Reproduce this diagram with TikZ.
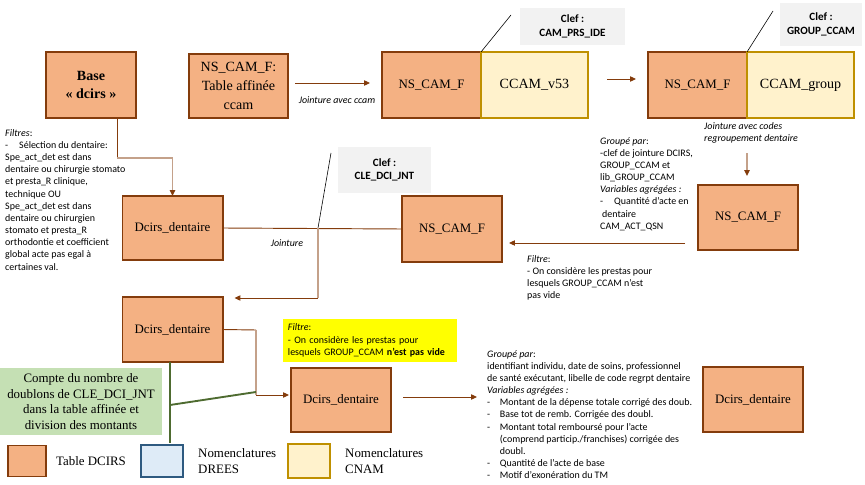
\documentclass[tikz,border=0pt]{standalone}
\usepackage{fontspec}
\setmainfont{Liberation Serif}
\newfontfamily\calib{Carlito}
\usetikzlibrary{arrows.meta,positioning,calc}

\definecolor{saumon}{HTML}{F4B183}
\definecolor{brun}{HTML}{843C0C}
\definecolor{brunclair}{HTML}{C4A18A}
\definecolor{creme}{HTML}{FFF2CC}
\definecolor{ocre}{HTML}{BF9000}
\definecolor{gris}{HTML}{F2F2F2}
\definecolor{vertclair}{HTML}{C5E0B4}
\definecolor{vertfonce}{HTML}{4E6B30}
\definecolor{bleuclair}{HTML}{DEEBF7}
\definecolor{bleufonce}{HTML}{2E5A80}
\definecolor{jaune}{HTML}{FFFF00}

\newcommand{\puce}{\makebox[0.38cm][l]{-}}
\newcommand{\retrait}{\hspace*{0.38cm}}

\tikzset{
  tabdcirs/.style={draw=brun, fill=saumon, line width=1.7pt, outer sep=0pt,
    minimum width=3cm, minimum height=1.95cm, inner sep=1pt, align=center,
    font=\fontsize{11}{13}\selectfont},
  nomcnam/.style={draw=ocre, fill=creme, line width=1.7pt, outer sep=0pt,
    minimum width=3.21cm, minimum height=1.98cm, inner sep=1pt,
    font=\fontsize{12}{14}\selectfont},
  clef/.style={fill=gris, align=center, inner sep=0pt,
    font=\calib\bfseries\fontsize{9.5}{11.5}\selectfont},
  note/.style={font=\calib\fontsize{8.5}{10.4}\selectfont, align=left,
    inner sep=0pt, anchor=north west},
  legende/.style={font=\fontsize{11}{13.4}\selectfont, align=left,
    inner sep=0pt, anchor=west},
  lien/.style={draw=brun, line width=0.8pt},
  lienclair/.style={draw=brunclair, line width=1.6pt},
  vert/.style={draw=vertfonce, line width=1.6pt},
  appel/.style={draw=black, line width=0.5pt},
}

\begin{document}
\begin{tikzpicture}[x=0.03cm,y=-0.03cm,
    >={Triangle[length=5pt,width=4.5pt,color=brun]}]
  \useasboundingbox (0,0) rectangle (865,485);

% top row: tables and nomenclatures
  \node[tabdcirs,minimum width=2.7cm,minimum height=1.98cm,
    font=\bfseries\fontsize{12}{16}\selectfont] (base) at (91,85) {Base\\« dcirs »};
  \node[tabdcirs,minimum width=2.97cm,minimum height=1.92cm,
    font=\fontsize{12}{16}\selectfont] (nscamtab) at (238.5,86) {NS\_CAM\_F:\\Table affinée\\ccam};
  \node[tabdcirs,minimum width=2.97cm,minimum height=1.98cm] (nscam1) at (431.5,85) {NS\_CAM\_F};
  \node[nomcnam,right=0pt of nscam1] (ccam53) {CCAM\_v53};
  \node[tabdcirs,minimum width=2.97cm,minimum height=1.98cm] (nscam2) at (697.5,85) {NS\_CAM\_F};
  \node[nomcnam,right=0pt of nscam2] (ccamgrp) {CCAM\_group};

% keys
  \node[clef,minimum width=3.15cm,minimum height=1.11cm] (clef1) at (572.5,26.5) {Clef :\\CAM\_PRS\_IDE};
  \node[clef,minimum width=2.46cm,minimum height=1.29cm] (clef2) at (821,24.5) {Clef :\\GROUP\_CCAM};
  \node[clef,minimum width=2.79cm,minimum height=1.38cm] (clef3) at (384.5,170) {Clef :\\CLE\_DCI\_JNT};
  \coordinate (a1) at (511,15);
  \coordinate (a2) at (773,11);
  \draw[appel] (nscam1.north east) -- (a1);
  \draw[appel] (nscam2.north east) -- (a2);

% middle and bottom tables
  \node[tabdcirs] (nscam3) at (748,217.5) {NS\_CAM\_F};
  \node[tabdcirs,minimum height=1.98cm] (nscam4) at (452,229) {NS\_CAM\_F};
  \node[tabdcirs,minimum height=1.92cm] (dcirs1) at (172.5,228) {Dcirs\_dentaire};
  \node[tabdcirs] (dcirs2) at (172.5,329.5) {Dcirs\_dentaire};
  \node[tabdcirs,minimum height=1.92cm] (dcirs3) at (341,400) {Dcirs\_dentaire};
  \node[tabdcirs] (dcirs4) at (753,399.5) {Dcirs\_dentaire};

  \node[fill=vertclair,minimum width=4.86cm,minimum height=1.98cm,align=center,inner sep=0pt,
    font=\fontsize{11}{13.3}\selectfont] (compte) at (81,401.5)
    {Compte du nombre de\\doublons de CLE\_DCI\_JNT\\dans la table affinée et\\division des montants};
  \node[fill=jaune,minimum width=5.22cm,minimum height=1.29cm,text width=4.92cm,align=left,
    inner xsep=0.15cm,font=\calib\fontsize{8.5}{10.4}\selectfont] (filtrej) at (370,340.5)
    {\textit{Filtre}:\\- On considère les prestas pour\\lesquels GROUP\_CCAM \textbf{n’est pas vide}};

% notes
  \node[note] (filtres) at (5,129) {\textit{Filtres}:\\
    \makebox[0.42cm][l]{-}Sélection du dentaire:\\
    Spe\_act\_det est dans\\
    dentaire ou chirurgie stomato\\
    et presta\_R clinique,\\
    technique OU\\
    Spe\_act\_det est dans\\
    dentaire ou chirurgien\\
    stomato et presta\_R\\
    orthodontie et coefficient\\
    global acte pas egal à\\
    certaines val.};
  \node[note,anchor=center] (jcam) at (337,100) {\textit{Jointure avec ccam}};
  \node[note] (jcodes) at (704,122) {\textit{Jointure avec codes}\\\textit{regroupement dentaire}};
  \node[note] (grp1) at (600,137) {\textit{Groupé par}:\\
    -clef de jointure DCIRS,\\
    GROUP\_CCAM et\\
    lib\_GROUP\_CCAM\\
    \textit{Variables agrégées :}\\
    \makebox[0.42cm][l]{-}Quantité d’acte en\\
    \hspace*{0.06cm}dentaire\\
    CAM\_ACT\_QSN};
  \node[note] (filtre2) at (527,255) {\textit{Filtre}:\\
    - On considère les prestas pour\\
    lesquels GROUP\_CCAM n’est\\
    pas vide};
  \node[note,anchor=center] (jointure) at (287,243) {\textit{Jointure}};
  \node[note] (grp2) at (487,350) {\textit{Groupé par}:\\
    identifiant individu, date de soins, professionnel\\
    de santé exécutant, libelle de code regrpt dentaire\\
    \textit{Variables agrégées :}\\
    \puce Montant de la dépense totale corrigé des doub.\\
    \puce Base tot de remb. Corrigée des doubl.\\
    \puce Montant total remboursé pour l’acte\\
    \retrait (comprend particip./franchises) corrigée des\\
    \retrait doubl.\\
    \puce Quantité de l’acte de base\\
    \puce Motif d’exonération du TM};

% connectors
  \draw[lien,->,shorten <=0.21cm,shorten >=0.36cm] ([yshift=0.09cm]nscamtab.east) -- ([yshift=0.09cm]nscamtab.east -| nscam1.west);
  \draw[lien,->,shorten <=0.57cm,shorten >=0.36cm] ([yshift=0.18cm]ccam53.east) -- ([yshift=0.18cm]ccam53.east -| nscam2.west);
  \draw[lienclair,->,shorten <=1.05cm,shorten >=0.27cm] (ccamgrp.south west) -- (ccamgrp.south west |- nscam3.north);
  \draw[lien,->,shorten <=0.39cm,shorten >=0.21cm] ([yshift=0.21cm]nscam3.south west) -- ([yshift=0.21cm]nscam3.south west -| nscam4.east);

  % base -> dcirs1
  \coordinate (c1) at (117,158);
  \draw[lien] (base.south -| c1) -- (c1);
  \draw[lienclair] (c1) -- (c1 -| dcirs1.north);
  \draw[lienclair,->] (c1 -| dcirs1.north) -- (dcirs1.north);

  % dcirs1 + nscam4 -> dcirs2
  \draw[lien] (dcirs1.east) -- (nscam4.west);
  \coordinate (j1) at (318,228);
  \coordinate (j2) at (318,298);
  \coordinate (a3) at (331,153);
  \draw[appel] (j1) -- (a3);
  \draw[lienclair] (j1) -- (j2);
  \draw[lien,->,shorten >=0.36cm] (j2) -- (j2 -| dcirs2.north east);

  % dcirs2 -> dcirs3
  \coordinate (k1) at (256,330);
  \coordinate (k2) at (256,395);
  \draw[lien] (dcirs2.east) -- (k1);
  \draw[lienclair] (k1) -- (k2);
  \draw[lien,->,shorten >=0.06cm] (k2) -- (k2 -| dcirs3.west);

  % dcirs3 -> grp2
  \draw[lien,->,shorten <=0.36cm,shorten >=0.3cm] ([yshift=0.09cm]dcirs3.east) -- ([yshift=0.09cm]dcirs3.east -| grp2.west);

  % green lines
  \coordinate (v1) at (170,443);
  \coordinate (v2) at (170,405);
  \coordinate (v3) at (256,392);
  \draw[vert] (dcirs2.south -| v1) -- (v1);
  \draw[vert] (v2) -- (v3);

% legend
  \node[draw=brun,fill=saumon,line width=1.7pt,minimum width=1.14cm,minimum height=0.93cm] (leg1) at (27,461) {};
  \node[legende,right=0.27cm of leg1] (legt1) {Table DCIRS};
  \node[draw=bleufonce,fill=bleuclair,line width=1.7pt,minimum width=1.26cm,minimum height=0.96cm] (leg2) at (162,461) {};
  \node[legende,right=0.42cm of leg2] (legt2) {Nomenclatures\\DREES};
  \node[draw=ocre,fill=creme,line width=1.7pt,minimum width=1.26cm,minimum height=1.02cm] (leg3) at (309,461) {};
  \node[legende,right=0.42cm of leg3] (legt3) {Nomenclatures\\CNAM};

\end{tikzpicture}
\end{document}
